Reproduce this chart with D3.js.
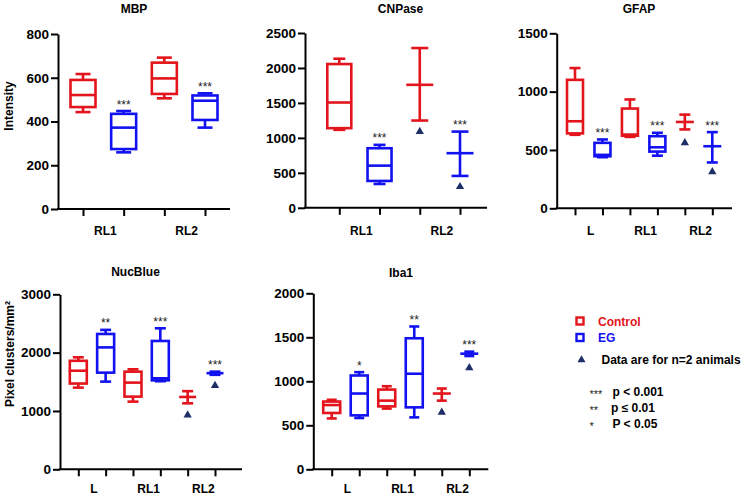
<!DOCTYPE html>
<html><head><meta charset="utf-8">
<script src="https://cdn.jsdelivr.net/npm/d3@7"></script>
<style>body{margin:0;background:#fff} svg{display:block;font-family:"Liberation Sans",Arial,sans-serif}</style>
</head><body><svg id="c" width="744" height="498"></svg>
<script>
const RED = "#e3141c", BLUE = "#1212f0", NAVY = "#1d2f66";
const groupColors = {Control: RED, EG: BLUE};

// ---------- DATA ----------
// box plots: min, q1, median, q3, max ; sig = significance stars
const mbpCategories = ["RL1", "RL2"];
const mbpBoxes = [
  {cat:"RL1", grp:"Control", min:443, q1:466, med:521, q3:590, max:617, sig:""},
  {cat:"RL1", grp:"EG",      min:259, q1:274, med:372, q3:435, max:448, sig:"***"},
  {cat:"RL2", grp:"Control", min:506, q1:526, med:597, q3:669, max:692, sig:""},
  {cat:"RL2", grp:"EG",      min:372, q1:407, med:495, q3:519, max:529, sig:"***"}
];
const mbpPairs = [];

const cnpCategories = ["RL1", "RL2"];
const cnpBoxes = [
  {cat:"RL1", grp:"Control", min:1115, q1:1139, med:1506, q3:2056, max:2132, sig:""},
  {cat:"RL1", grp:"EG",      min:341,  q1:384,  med:603,  q3:852,  max:900,  sig:"***"}
];
// n=2 animals: low, mean, high, triangle marker
const cnpPairs = [
  {cat:"RL2", grp:"Control", low:1248, mean:1759, high:2285, tri:1090, sig:""},
  {cat:"RL2", grp:"EG",      low:456,  mean:781,  high:1090, tri:302,  sig:"***"}
];

const gfapCategories = ["L", "RL1", "RL2"];
const gfapBoxes = [
  {cat:"L",   grp:"Control", min:630, q1:642, med:746, q3:1101, max:1202, sig:""},
  {cat:"L",   grp:"EG",      min:438, q1:446, med:458, q3:561,  max:590,  sig:"***"},
  {cat:"RL1", grp:"Control", min:612, q1:622, med:632, q3:855,  max:933,  sig:""},
  {cat:"RL1", grp:"EG",      min:451, q1:486, med:523, q3:618,  max:647,  sig:"***"}
];
const gfapPairs = [
  {cat:"RL2", grp:"Control", low:676, mean:740, high:803, tri:561, sig:""},
  {cat:"RL2", grp:"EG",      low:393, mean:532, high:653, tri:312, sig:"***"}
];

const nucCategories = ["L", "RL1", "RL2"];
const nucBoxes = [
  {cat:"L",   grp:"Control", min:1400, q1:1470, med:1690, q3:1860, max:1920, sig:""},
  {cat:"L",   grp:"EG",      min:1503, q1:1657, med:2090, q3:2320, max:2390, sig:"**"},
  {cat:"RL1", grp:"Control", min:1160, q1:1246, med:1486, q3:1674, max:1714, sig:""},
  {cat:"RL1", grp:"EG",      min:1510, q1:1525, med:1560, q3:2200, max:2417, sig:"***"}
];
const nucPairs = [
  {cat:"RL2", grp:"Control", low:1131, mean:1240, high:1340, tri:931,  sig:""},
  {cat:"RL2", grp:"EG",      low:1620, mean:1648, high:1674, tri:1434, sig:"***"}
];

const ibaCategories = ["L", "RL1", "RL2"];
const ibaBoxes = [
  {cat:"L",   grp:"Control", min:578, q1:640, med:730, q3:770,  max:790,  sig:""},
  {cat:"L",   grp:"EG",      min:583, q1:613, med:861, q3:1066, max:1104, sig:"*"},
  {cat:"RL1", grp:"Control", min:690, q1:715, med:780, q3:906,  max:944,  sig:""},
  {cat:"RL1", grp:"EG",      min:590, q1:704, med:1086, q3:1489, max:1623, sig:"**"}
];
const ibaPairs = [
  {cat:"RL2", grp:"Control", low:780,  mean:861,  high:918,  tri:647,  sig:""},
  {cat:"RL2", grp:"EG",      low:1287, mean:1314, high:1337, tri:1154, sig:"***"}
];

const legendItems = [{label:"Control", grp:"Control"}, {label:"EG", grp:"EG"}];
const legendNote = "Data are for n=2 animals";
const pLegend = [{stars:"***", text:"p < 0.001"}, {stars:"**", text:"p \u2264  0.01"}, {stars:"*", text:"P < 0.05"}];

// ---------- LAYOUT ----------
const panels = [
  {title:"MBP", yLabel:"Intensity", cats:mbpCategories, boxes:mbpBoxes, pairs:mbpPairs, yMax:800, yStep:200,
   ax0:58, axEnd:230, top:34, bottom:209, first:83, last:205, titleX:134, titleY:12.6, labY:235.3,
   bw:25, cw:15, mw:27, ew:17, ylx:13, yly:106},
  {title:"CNPase", cats:cnpCategories, boxes:cnpBoxes, pairs:cnpPairs, yMax:2500, yStep:500,
   ax0:305, axEnd:487, top:33, bottom:207.8, first:339.3, last:460, titleX:400.5, titleY:12.6, labY:235.3,
   bw:24, cw:12, mw:27, ew:17},
  {title:"GFAP", cats:gfapCategories, boxes:gfapBoxes, pairs:gfapPairs, yMax:1500, yStep:500,
   ax0:556.7, axEnd:732, top:33.3, bottom:208.3, first:575, last:712.3, titleX:639, titleY:12.6, labY:235.3,
   bw:16, cw:11, mw:18, ew:11},
  {title:"NucBlue", yLabel:"Pixel clusters/mm\u00b2", cats:nucCategories, boxes:nucBoxes, pairs:nucPairs, yMax:3000, yStep:1000,
   ax0:60, axEnd:242, top:294.3, bottom:469.3, first:78.3, last:215, titleX:135.5, titleY:276, labY:492.6,
   bw:17, cw:11, mw:17, ew:11, ylx:13.5, yly:354},
  {title:"Iba1", cats:ibaCategories, boxes:ibaBoxes, pairs:ibaPairs, yMax:2000, yStep:500,
   ax0:313.3, axEnd:488.3, top:293.3, bottom:469.3, first:331.7, last:469.3, titleX:401, titleY:276.6, labY:492.6,
   bw:17, cw:10, mw:18, ew:10}
];

const svg = d3.select("#c");
const LW = 2.6;

panels.forEach(p => {
  const g = svg.append("g");
  const keys = [];
  p.cats.forEach(c => ["Control","EG"].forEach(gr => keys.push(c + "|" + gr)));
  const x = d3.scalePoint().domain(keys).range([p.first, p.last]);
  const y = d3.scaleLinear().domain([0, p.yMax]).range([p.bottom, p.top]);

  // y axis
  const ya = g.append("g").attr("transform", `translate(${p.ax0},0)`)
    .call(d3.axisLeft(y).tickValues(d3.range(0, p.yMax + 1, p.yStep)).tickFormat(d3.format("d"))
      .tickSize(7).tickPadding(2).tickSizeOuter(0));
  ya.select(".domain").attr("stroke", "#000").attr("stroke-width", 2);
  ya.selectAll(".tick line").attr("stroke", "#000").attr("stroke-width", 2);
  ya.selectAll(".tick text").attr("fill", "#000").style("font-size", "13.5px").style("font-weight", "bold")
    .style("font-family", '"Liberation Sans",Arial,sans-serif');

  // x axis
  g.append("line").attr("x1", p.ax0 - 1).attr("x2", p.axEnd).attr("y1", p.bottom).attr("y2", p.bottom)
    .attr("stroke", "#000").attr("stroke-width", 2);
  const xa = g.append("g").attr("transform", `translate(0,${p.bottom})`)
    .call(d3.axisBottom(x).tickSize(7).tickFormat("").tickSizeOuter(0));
  xa.select(".domain").remove();
  xa.selectAll(".tick line").attr("stroke", "#000").attr("stroke-width", 2);

  // category labels
  p.cats.forEach(c => {
    const cx = (x(c + "|Control") + x(c + "|EG")) / 2 + 2;
    g.append("text").attr("x", cx).attr("y", p.labY).attr("text-anchor", "middle")
      .style("font-size", "12px").style("font-weight", "bold").text(c);
  });

  // title
  g.append("text").attr("x", p.titleX).attr("y", p.titleY).attr("text-anchor", "middle")
    .style("font-size", "12px").style("font-weight", "bold").text(p.title);

  if (p.yLabel) {
    g.append("text").attr("transform", `translate(${p.ylx},${p.yly}) rotate(-90)`).attr("text-anchor", "middle")
      .style("font-size", "12px").style("font-weight", "bold").text(p.yLabel);
  }

  // boxes
  p.boxes.forEach(b => {
    const cx = x(b.cat + "|" + b.grp), col = groupColors[b.grp];
    const bg = g.append("g").attr("stroke", col).attr("stroke-width", LW).attr("fill", "none");
    bg.append("line").attr("x1", cx).attr("x2", cx).attr("y1", y(b.q3)).attr("y2", y(b.max));
    bg.append("line").attr("x1", cx).attr("x2", cx).attr("y1", y(b.q1)).attr("y2", y(b.min));
    bg.append("line").attr("x1", cx - p.cw/2).attr("x2", cx + p.cw/2).attr("y1", y(b.max)).attr("y2", y(b.max));
    bg.append("line").attr("x1", cx - p.cw/2).attr("x2", cx + p.cw/2).attr("y1", y(b.min)).attr("y2", y(b.min));
    bg.append("rect").attr("x", cx - p.bw/2).attr("y", y(b.q3)).attr("width", p.bw).attr("height", y(b.q1) - y(b.q3));
    bg.append("line").attr("x1", cx - p.bw/2).attr("x2", cx + p.bw/2).attr("y1", y(b.med)).attr("y2", y(b.med));
    if (b.sig) {
      g.append("text").attr("x", cx).attr("y", y(b.max) - 2.5).attr("text-anchor", "middle")
        .style("font-size", "12px").attr("fill", "#222").text(b.sig);
    }
  });

  // n=2 groups: mean with range
  p.pairs.forEach(b => {
    const cx = x(b.cat + "|" + b.grp), col = groupColors[b.grp];
    const bg = g.append("g").attr("stroke", col).attr("stroke-width", LW).attr("fill", "none");
    bg.append("line").attr("x1", cx).attr("x2", cx).attr("y1", y(b.low)).attr("y2", y(b.high));
    bg.append("line").attr("x1", cx - p.ew/2).attr("x2", cx + p.ew/2).attr("y1", y(b.low)).attr("y2", y(b.low));
    bg.append("line").attr("x1", cx - p.ew/2).attr("x2", cx + p.ew/2).attr("y1", y(b.high)).attr("y2", y(b.high));
    bg.append("line").attr("x1", cx - p.mw/2).attr("x2", cx + p.mw/2).attr("y1", y(b.mean)).attr("y2", y(b.mean));
    g.append("path").attr("d", d3.symbol(d3.symbolTriangle, 30)())
      .attr("transform", `translate(${cx},${y(b.tri)})`).attr("fill", NAVY);
    if (b.sig) {
      g.append("text").attr("x", cx).attr("y", y(b.high) - 2.5).attr("text-anchor", "middle")
        .style("font-size", "12px").attr("fill", "#222").text(b.sig);
    }
  });
});

// ---------- LEGEND ----------
const lg = svg.append("g");
legendItems.forEach((d, i) => {
  const yy = 321 + i * 16.5;
  lg.append("rect").attr("x", 576.5).attr("y", yy - 3.5).attr("width", 7).attr("height", 7)
    .attr("fill", "none").attr("stroke", groupColors[d.grp]).attr("stroke-width", 2.4);
  lg.append("text").attr("x", 598).attr("y", yy + 4.5).attr("fill", groupColors[d.grp])
    .style("font-size", "12px").style("font-weight", "bold").text(d.label);
});
lg.append("path").attr("d", d3.symbol(d3.symbolTriangle, 28)()).attr("transform", "translate(581.5,360)").attr("fill", NAVY);
lg.append("text").attr("x", 601.5).attr("y", 364.3).style("font-size", "12px").style("font-weight", "bold").text(legendNote);

pLegend.forEach((d, i) => {
  const yy = 396 + i * 16;
  lg.append("text").attr("x", 589.5).attr("y", yy + 2).style("font-size", "11px").attr("fill", "#222").text(d.stars);
  lg.append("text").attr("x", [612.5, 611, 612.5][i]).attr("y", yy).style("font-size", "12px").style("font-weight", "bold").text(d.text);
});
</script></body></html>
